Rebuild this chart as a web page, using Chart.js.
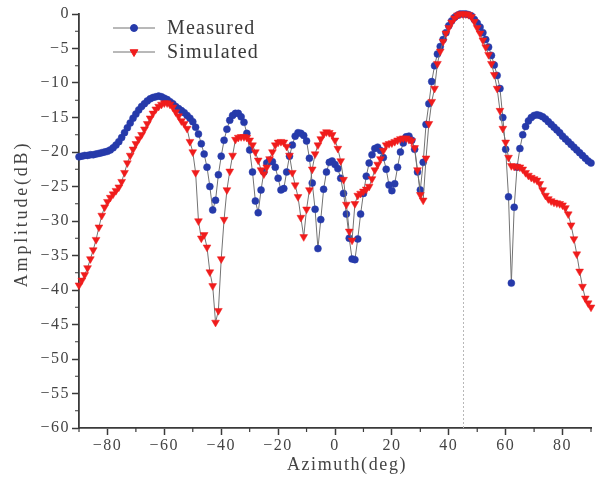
<!DOCTYPE html>
<html><head><meta charset="utf-8">
<script src="https://cdn.jsdelivr.net/npm/chart.js@4.4.0/dist/chart.umd.min.js"></script>
<style>html,body{margin:0;padding:0;background:#fff;}canvas{display:block;}</style>
</head><body>
<canvas id="c" width="596" height="484"></canvas>
<script>
const azimuth = [-90,-89,-88,-87,-86,-85,-84,-83,-82,-81,-80,-79,-78,-77,-76,-75,-74,-73,-72,-71,-70,-69,-68,-67,-66,-65,-64,-63,-62,-61,-60,-59,-58,-57,-56,-55,-54,-53,-52,-51,-50,-49,-48,-47,-46,-45,-44,-43,-42,-41,-40,-39,-38,-37,-36,-35,-34,-33,-32,-31,-30,-29,-28,-27,-26,-25,-24,-23,-22,-21,-20,-19,-18,-17,-16,-15,-14,-13,-12,-11,-10,-9,-8,-7,-6,-5,-4,-3,-2,-1,0,1,2,3,4,5,6,7,8,9,10,11,12,13,14,15,16,17,18,19,20,21,22,23,24,25,26,27,28,29,30,31,32,33,34,35,36,37,38,39,40,41,42,43,44,45,46,47,48,49,50,51,52,53,54,55,56,57,58,59,60,61,62,63,64,65,66,67,68,69,70,71,72,73,74,75,76,77,78,79,80,81,82,83,84,85,86,87,88,89,90];

const measured = [
-20.7,-20.6,-20.5,-20.5,-20.4,-20.4,-20.3,-20.2,-20.1,-20.0,
-19.9,-19.7,-19.4,-19.0,-18.5,-17.9,-17.2,-16.5,-15.8,-15.1,
-14.5,-13.9,-13.4,-13.0,-12.6,-12.3,-12.1,-12.0,-11.9,-12.0,
-12.2,-12.4,-12.7,-13.0,-13.4,-13.7,-14.0,-14.3,-14.7,-15.1,
-15.6,-16.4,-17.4,-18.8,-20.3,-22.2,-25.0,-28.4,-27.0,-23.3,
-20.6,-18.3,-16.7,-15.4,-14.7,-14.4,-14.4,-14.9,-15.7,-17.3,
-19.7,-22.9,-27.1,-28.8,-25.5,-22.9,-21.6,-21.2,-21.4,-22.2,
-23.8,-25.5,-25.3,-22.9,-20.6,-19.0,-17.7,-17.2,-17.3,-17.6,
-18.4,-20.9,-24.5,-28.3,-34.0,-29.8,-25.4,-22.9,-21.5,-21.3,
-21.8,-22.4,-23.8,-26.0,-29.0,-32.5,-35.5,-35.6,-32.6,-29.0,
-26.0,-23.5,-21.6,-20.4,-19.5,-19.3,-19.8,-20.8,-22.5,-24.8,
-25.6,-24.6,-22.2,-20.0,-18.7,-17.8,-17.7,-18.3,-19.6,-22.9,
-25.5,-21.5,-16.0,-13.0,-9.8,-7.5,-5.8,-4.7,-3.7,-2.7,
-1.7,-1.0,-0.5,-0.2,0,0,0,-0.1,-0.3,-0.8,
-1.3,-1.9,-2.7,-3.7,-4.8,-6.0,-7.4,-8.9,-10.8,-15.0,
-19.6,-26.5,-39.0,-28.0,-22.2,-19.5,-17.5,-16.3,-15.5,-15.0,
-14.7,-14.6,-14.7,-14.9,-15.2,-15.6,-16.0,-16.4,-16.8,-17.2,
-17.7,-18.1,-18.5,-18.9,-19.3,-19.7,-20.1,-20.5,-20.9,-21.3,
-21.6];

const simulated = [
-39.3,-38.6,-37.8,-36.8,-35.5,-34.2,-32.7,-30.9,-29.2,-28.0,
-27.2,-26.6,-26.1,-25.6,-25.1,-24.3,-23.0,-21.6,-20.5,-19.6,
-18.8,-18.1,-17.5,-16.7,-15.9,-15.1,-14.4,-13.8,-13.4,-13.1,
-12.9,-12.9,-13.1,-13.5,-14.2,-14.8,-15.5,-15.9,-16.6,-18.5,
-20.0,-23.0,-30.0,-32.5,-32.0,-33.8,-37.4,-39.4,-44.7,-43.0,
-35.5,-29.8,-25.5,-22.8,-20.5,-18.2,-17.9,-17.8,-17.8,-17.9,
-18.3,-19.0,-20.0,-21.2,-22.6,-23.2,-22.2,-21.0,-20.0,-19.0,
-18.6,-18.5,-18.6,-19.2,-20.5,-23.0,-24.8,-26.5,-29.5,-32.3,
-28.3,-25.5,-22.5,-20.3,-19.0,-18.1,-17.4,-17.1,-17.2,-17.5,
-18.3,-19.5,-21.3,-24.0,-27.6,-31.5,-32.8,-27.5,-26.3,-26.0,
-25.7,-25.4,-25.0,-23.9,-22.6,-21.8,-21.0,-19.8,-19.0,-18.8,
-18.7,-18.5,-18.3,-18.1,-18.0,-18.0,-18.2,-18.4,-19.4,-22.6,
-26.2,-27.0,-20.9,-15.9,-12.7,-10.8,-7.2,-5.4,-4.0,-2.8,
-2.0,-1.2,-0.6,-0.2,0,0,0,-0.1,-0.4,-1.1,
-2.0,-2.8,-3.8,-4.8,-5.9,-7.2,-8.8,-10.8,-14.0,-16.6,
-18.6,-20.8,-22.0,-22.1,-22.1,-22.2,-22.5,-23.0,-23.4,-23.7,
-23.9,-24.1,-24.6,-25.5,-26.3,-26.8,-27.1,-27.3,-27.4,-27.5,
-27.7,-28.1,-29.0,-30.6,-32.6,-34.8,-37.3,-39.5,-41.2,-41.9,
-42.5];

const seriesNames = ['Measured', 'Simulated'];
const xTickValues = [-80, -60, -40, -20, 0, 20, 40, 60, 80];
const yTickValues = [0, -5, -10, -15, -20, -25, -30, -35, -40, -45, -50, -55, -60];
const xMinorTicks = [-90, -70, -50, -30, -10, 10, 30, 50, 70, 90];
const yMinorTicks = [-2.5, -7.5, -12.5, -17.5, -22.5, -27.5, -32.5, -37.5, -42.5, -47.5, -52.5, -57.5];
const mainBeamAngle = 45;
const xTitle = 'Azimuth(deg)';
const yTitle = 'Amplitude(dB)';

const BLUE = 'rgb(38,58,170)';
const RED = 'rgb(240,28,28)';
const LINE = 'rgb(115,115,115)';
const AXIS = '#3a3a3a';
const FONT = 'Liberation Serif';

const toPoints = arr => azimuth.map((a, i) => ({x: a, y: arr[i]}));

const spacingPlugin = {
  id: 'spacing',
  beforeLayout(chart) { chart.ctx.letterSpacing = '1.5px'; },
  beforeDraw(chart) { chart.ctx.letterSpacing = '1.5px'; }
};

const decorPlugin = {
  id: 'decor',
  beforeDatasetsDraw(chart) {
    const {ctx, chartArea, scales} = chart;
    const x = scales.x.getPixelForValue(mainBeamAngle);
    ctx.save();
    ctx.strokeStyle = '#b8b8b8';
    ctx.lineWidth = 1;
    ctx.setLineDash([2, 2]);
    ctx.beginPath();
    ctx.moveTo(Math.round(x) + 0.5, chartArea.top);
    ctx.lineTo(Math.round(x) + 0.5, chartArea.bottom);
    ctx.stroke();
    ctx.restore();
  },
  afterDraw(chart) {
    const {ctx, chartArea, scales} = chart;
    ctx.save();
    ctx.strokeStyle = AXIS;
    ctx.lineWidth = 1.2;
    ctx.beginPath();
    xMinorTicks.forEach(v => {
      const px = scales.x.getPixelForValue(v);
      ctx.moveTo(px, chartArea.bottom);
      ctx.lineTo(px, chartArea.bottom + 4);
    });
    yMinorTicks.forEach(v => {
      const py = scales.y.getPixelForValue(v);
      ctx.moveTo(chartArea.left, py);
      ctx.lineTo(chartArea.left - 4, py);
    });
    ctx.stroke();

    ctx.fillStyle = '#444';
    ctx.font = '18px "' + FONT + '"';
    ctx.letterSpacing = '1.6px';
    ctx.textAlign = 'center';
    ctx.textBaseline = 'middle';
    ctx.fillText(xTitle, 347, 465);
    ctx.save();
    ctx.translate(22, 214);
    ctx.rotate(-Math.PI / 2);
    ctx.letterSpacing = '2.8px';
    ctx.fillText(yTitle, 0, 0);
    ctx.restore();

    const items = [
      {text: seriesNames[0], color: BLUE, style: 'circle', radius: 3.5, rotation: 0, y: 28},
      {text: seriesNames[1], color: RED, style: 'triangle', radius: 4.5, rotation: 180, y: 52}
    ];
    items.forEach(it => {
      ctx.strokeStyle = LINE;
      ctx.lineWidth = 1;
      ctx.setLineDash([]);
      ctx.beginPath();
      ctx.moveTo(113, it.y);
      ctx.lineTo(155, it.y);
      ctx.stroke();
      ctx.fillStyle = it.color;
      ctx.strokeStyle = it.color;
      Chart.helpers.drawPoint(ctx, {pointStyle: it.style, radius: it.radius, rotation: it.rotation, borderWidth: 0.5}, 134, it.y);
      ctx.fillStyle = '#3a3a3a';
      ctx.font = '20px "' + FONT + '"';
      ctx.letterSpacing = '1.2px';
      ctx.textAlign = 'left';
      ctx.textBaseline = 'middle';
      ctx.fillText(it.text, 167, it.y + 1);
    });
    ctx.restore();
  }
};

const tickFmt = v => String(v).replace('-', '\u2212');

new Chart(document.getElementById('c'), {
  type: 'line',
  data: {
    datasets: [
      {
        label: seriesNames[0], data: toPoints(measured),
        borderColor: LINE, borderWidth: 1,
        pointStyle: 'circle', pointRadius: 3.5, pointBorderWidth: 0.5,
        pointBackgroundColor: BLUE, pointBorderColor: BLUE,
        clip: false, order: 1
      },
      {
        label: seriesNames[1], data: toPoints(simulated),
        borderColor: LINE, borderWidth: 1,
        pointStyle: 'triangle', pointRotation: 180, pointRadius: 4.5, pointBorderWidth: 0.5,
        pointBackgroundColor: RED, pointBorderColor: RED,
        clip: false, order: 0
      }
    ]
  },
  options: {
    responsive: false, animation: false, devicePixelRatio: 1,
    layout: {padding: {left: 0, right: 2, top: 14, bottom: 0}},
    plugins: {legend: {display: false}, tooltip: {enabled: false}},
    elements: {line: {tension: 0}},
    scales: {
      x: {
        type: 'linear', min: -90, max: 90,
        afterBuildTicks: s => { s.ticks = xTickValues.map(v => ({value: v})); },
        afterFit: s => { s.height = 56; },
        ticks: {callback: tickFmt, color: '#444', font: {family: FONT, size: 16}, padding: 1, maxRotation: 0, autoSkip: false},
        grid: {drawOnChartArea: false, drawTicks: true, tickLength: 7, tickColor: AXIS, tickWidth: 1.5},
        border: {display: true, color: AXIS, width: 1.8}
      },
      y: {
        type: 'linear', min: -60, max: 0,
        afterBuildTicks: s => { s.ticks = yTickValues.map(v => ({value: v})); },
        afterFit: s => { s.width = 79; },
        ticks: {callback: tickFmt, color: '#444', font: {family: FONT, size: 16}, padding: 2, autoSkip: false},
        grid: {drawOnChartArea: false, drawTicks: true, tickLength: 7, tickColor: AXIS, tickWidth: 1.5},
        border: {display: true, color: AXIS, width: 1.8}
      }
    }
  },
  plugins: [spacingPlugin, decorPlugin]
});
</script>
</body></html>
